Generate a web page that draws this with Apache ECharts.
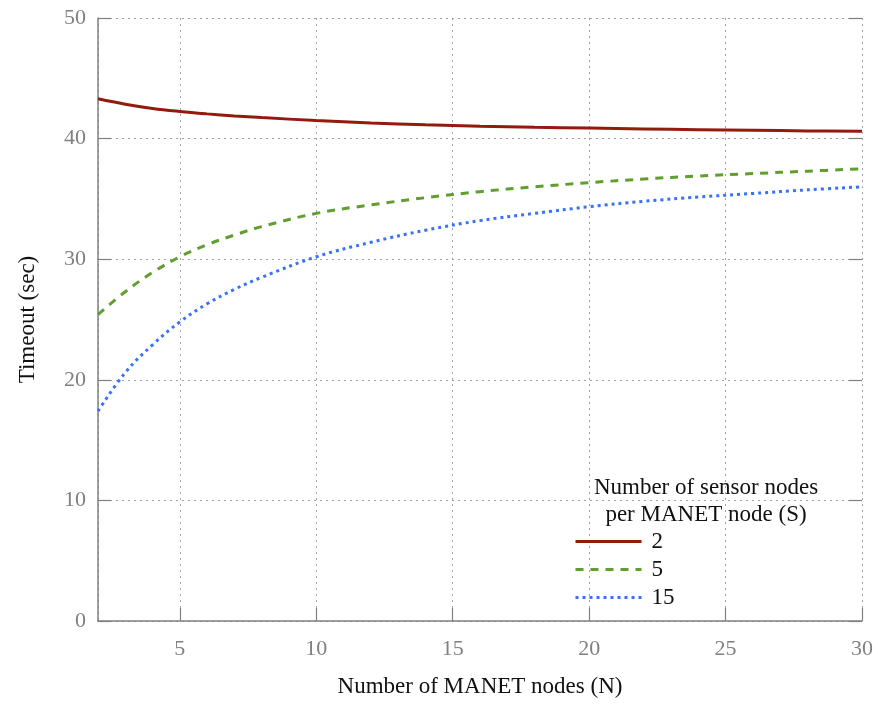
<!DOCTYPE html>
<html>
<head>
<meta charset="utf-8">
<script src="https://cdn.jsdelivr.net/npm/echarts@6/dist/echarts.min.js"></script>
<style>
  html, body { margin: 0; padding: 0; background: #fff; }
  #chart { width: 878px; height: 704px; }
</style>
</head>
<body>
<div id="chart"></div>
<script>
// Number of MANET nodes (N)
var nodes = [2, 3, 4, 5, 6, 7, 8, 10, 12, 14, 16, 18, 20, 22, 24, 26, 28, 30];
// Timeout (sec) for each S
var s2  = [43.3, 42.85, 42.5, 42.25, 42.05, 41.88, 41.74, 41.5, 41.3, 41.15, 41.03, 40.94, 40.87, 40.8, 40.74, 40.69, 40.64, 40.6];
var s5  = [25.4, 27.3, 28.9, 30.2, 31.2, 32.0, 32.7, 33.8, 34.5, 35.1, 35.6, 36.0, 36.35, 36.65, 36.9, 37.1, 37.3, 37.5];
var s15 = [17.4, 20.6, 22.9, 24.8, 26.3, 27.5, 28.5, 30.2, 31.4, 32.4, 33.2, 33.8, 34.35, 34.8, 35.15, 35.45, 35.75, 36.0];
var seriesNames = ['2', '5', '15'];
var legendTitle = ['Number of sensor nodes', 'per MANET node (S)'];

var font = 'Liberation Serif';
var gray = '#808080';

function pairs(vals) {
  var out = [];
  for (var i = 0; i < nodes.length; i++) {
    out.push([nodes[i], vals[i]]);
  }
  return out;
}

var myChart = echarts.init(document.getElementById('chart'));

var option = {
  animation: false,
  backgroundColor: '#fff',
  grid: { left: 98, right: 16, top: 18, bottom: 83, containLabel: false },
  xAxis: {
    type: 'value',
    min: 2,
    max: 30,
    minInterval: 5,
    maxInterval: 5,
    name: 'Number of MANET nodes (N)',
    nameLocation: 'middle',
    nameGap: 54,
    nameTextStyle: { fontFamily: font, fontSize: 23, color: '#111' },
    axisLine: { show: true, lineStyle: { color: gray, width: 1.5 } },
    axisTick: { show: true, inside: true, length: 13, lineStyle: { color: gray, width: 1.2 } },
    axisLabel: { showMinLabel: false, margin: 17, fontFamily: font, fontSize: 22, color: gray },
    splitLine: { show: true, lineStyle: { color: '#a0a0a0', width: 1, type: [2, 4] } }
  },
  yAxis: [{
    type: 'value',
    min: 0,
    max: 50,
    interval: 10,
    name: 'Timeout (sec)',
    nameLocation: 'middle',
    nameGap: 59,
    nameTextStyle: { fontFamily: font, fontSize: 23, color: '#111' },
    axisLine: { show: true, lineStyle: { color: gray, width: 1.5 } },
    axisTick: { show: true, inside: true, length: 13, lineStyle: { color: gray, width: 1.2 } },
    axisLabel: { margin: 12, fontFamily: font, fontSize: 22, color: gray },
    splitLine: { show: true, lineStyle: { color: '#a0a0a0', width: 1, type: [2, 4] } }
  }, {
    type: 'value',
    position: 'right',
    min: 0,
    max: 50,
    interval: 10,
    axisLine: { show: false },
    axisTick: { show: true, inside: true, length: 13, lineStyle: { color: gray, width: 1.2 } },
    axisLabel: { show: false },
    splitLine: { show: false }
  }],
  legend: {
    orient: 'vertical',
    left: 569,
    top: 525,
    itemWidth: 66,
    itemHeight: 14,
    itemGap: 5,
    itemStyle: { opacity: 0 },
    lineStyle: { width: 3 },
    textStyle: { fontFamily: font, fontSize: 23, color: '#111', lineHeight: 22, padding: [0, 0, 0, 5] },
    data: seriesNames
  },
  graphic: [{
    type: 'text',
    x: 706,
    y: 488,
    style: {
      text: legendTitle[0],
      font: '23px "Liberation Serif"',
      fill: '#111',
      align: 'center',
      verticalAlign: 'middle'
    }
  }, {
    type: 'text',
    x: 706,
    y: 515,
    style: {
      text: legendTitle[1],
      font: '23px "Liberation Serif"',
      fill: '#111',
      align: 'center',
      verticalAlign: 'middle'
    }
  }],
  series: [{
    name: seriesNames[0],
    type: 'line',
    data: pairs(s2),
    smooth: 0.4,
    symbol: 'none',
    lineStyle: { color: '#921b0e', width: 3 },
    itemStyle: { color: '#921b0e' }
  }, {
    name: seriesNames[1],
    type: 'line',
    data: pairs(s5),
    smooth: 0.4,
    symbol: 'none',
    lineStyle: { color: '#5f9e2f', width: 3, type: [8, 7] },
    itemStyle: { color: '#5f9e2f' }
  }, {
    name: seriesNames[2],
    type: 'line',
    data: pairs(s15),
    smooth: 0.4,
    symbol: 'none',
    lineStyle: { color: '#3872f8', width: 3, type: [3, 4] },
    itemStyle: { color: '#3872f8' }
  }]
};

myChart.setOption(option);
</script>
</body>
</html>
